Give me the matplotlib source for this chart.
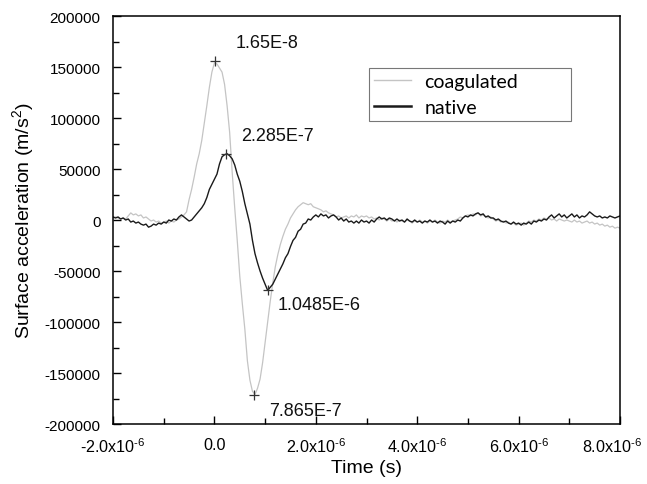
import numpy as np
import matplotlib
matplotlib.use("Agg")
import matplotlib.pyplot as plt
import matplotlib.transforms as mtransforms

plt.rcParams['font.family'] = ['Liberation Sans', 'DejaVu Sans']
plt.rcParams['mathtext.fontset'] = 'custom'
plt.rcParams['mathtext.rm'] = 'Liberation Sans'
plt.rcParams['mathtext.default'] = 'rm'

# time grid, 0.05 us steps from -2 us to 8 us
time = np.linspace(-2.0e-6, 8.0e-6, 201)

# surface acceleration, in units of 1000 m/s^2
native_k = [
    3, 2, 3, 1, 2, 0, 1, -2, -1, -3, -2, -4, -5, -4, -7, -6, -4, -5, -3, -4,
    -2, -3, 0, -1, 1, 0, 3, 5, 3, 1, -1, 0, 3, 6, 9, 12, 16, 22, 30, 35,
    40, 45, 55, 62, 64, 65, 63, 60, 54, 45, 38, 28, 16, 6, -4, -20, -33, -42, -50, -57,
    -63, -69, -66, -63, -58, -53, -48, -43, -37, -33, -26, -20, -17, -11, -9, -4, -3, 1, 0, 3,
    5, 3, 6, 4, 5, 2, 4, 5, 3, 0, 2, -1, 1, -2, -1, -3, -1, -3, 0, -2,
    -1, -3, 0, -2, 1, 3, 1, 2, 0, 2, 1, -1, 1, -1, 0, -2, 1, -1, -2, 0,
    -2, -1, -3, -1, -2, 0, -2, -1, -3, -1, -2, -4, -1, -3, -1, -2, 0, -1, 2, 4,
    3, 5, 4, 6, 7, 5, 6, 3, 4, 2, 2, 0, 1, -1, -2, -1, -3, -4, -2, -4,
    -3, -5, -3, -4, -2, -4, -1, -2, 0, -1, 1, 0, 3, 5, 2, 4, 6, 3, 5, 2,
    4, 6, 3, 5, 2, 4, 3, 5, 8, 6, 4, 3, 4, 2, 3, 2, 4, 3, 2, 3,
    4,
]
coagulated_k = [
    2, 3, 2, 1, 2, 1, 4, 7, 5, 6, 4, 5, 2, 3, 1, -1, 0, -2, -1, -3,
    -2, -1, -3, -1, -2, 0, 1, 3, 5, 8, 20, 30, 42, 55, 65, 78, 95, 112, 130, 145,
    154, 153, 149, 145, 133, 112, 86, 47, 12, -20, -55, -82, -107, -138, -157, -168, -171, -165, -156, -140,
    -120, -100, -80, -62, -46, -34, -24, -16, -9, -4, 2, 6, 10, 13, 15, 17, 16, 15, 16, 13,
    12, 11, 10, 8, 9, 7, 6, 5, 3, 4, 2, 3, 4, 2, 4, 3, 5, 2, 4, 3,
    4, 2, 3, 1, 2, 0, 2, 1, -1, 1, -1, 0, -2, 0, -1, -2, 0, -1, -3, -1,
    -2, 0, -2, -1, -3, -1, -2, 0, -2, -3, -1, -2, 0, -2, -1, 0, 1, 3, 2, 4,
    5, 4, 6, 5, 7, 4, 5, 3, 2, 3, 1, -1, 0, -2, -1, -3, -2, -4, -3, -5,
    -4, -3, -5, -3, -1, -2, 0, -1, 1, 0, 2, 1, 2, 0, 1, -1, 1, 0, -1, 0,
    -1, -2, 0, -2, -1, -3, -2, -1, -3, -2, -4, -3, -5, -4, -6, -5, -7, -6, -8, -7,
    -8,
]
native = np.array(native_k) * 1000
coagulated = np.array(coagulated_k) * 1000

# marked extrema and their labels
peak_t = [1.65e-8, 2.285e-7, 1.0485e-6, 7.865e-7]
peak_v = [156000, 65000, -69000, -172000]
peak_labels = ['1.65E-8', '2.285E-7', '1.0485E-6', '7.865E-7']
label_t = [0.41e-6, 0.52e-6, 1.25e-6, 1.08e-6]
label_v = [174500, 82400, -82400, -187000]

xticks = [-2.0e-6, 0.0, 2.0e-6, 4.0e-6, 6.0e-6, 8.0e-6]
xticklabels = ['-2.0x10$^{\u20106}$', '0.0', '2.0x10$^{\u20106}$', '4.0x10$^{\u20106}$',
               '6.0x10$^{\u20106}$', '8.0x10$^{\u20106}$']
yticks = [-200000, -150000, -100000, -50000, 0, 50000, 100000, 150000, 200000]

fig = plt.figure(figsize=(6.47, 4.85), dpi=100)
ax = fig.add_axes([0.1747, 0.1237, 0.7836, 0.8412])

ax.plot(time, coagulated, color='#c4c4c4', lw=0.9, label='coagulated')
ax.plot(time, native, color='#1a1a1a', lw=1.0, label='native')
ax.plot(peak_t, peak_v, ls='none', marker='+', ms=7, mew=0.9, color='#333333')

for t, v, s in zip(label_t, label_v, peak_labels):
    ax.text(t, v, s, fontsize=13, ha='left', va='center', color='#111111')

ax.set_xlim(-2.0e-6, 8.0e-6)
ax.set_ylim(-200000, 200000)
ax.set_xticks(xticks)
ax.set_xticklabels(xticklabels)
ax.set_xticks([-1e-6, 1e-6, 3e-6, 5e-6, 7e-6], minor=True)
ax.set_yticks(yticks)
ax.set_yticklabels([str(v) for v in yticks])
ax.set_yticks([-175000, -125000, -75000, -25000, 25000, 75000, 125000, 175000], minor=True)
ax.tick_params(which='both', direction='in', top=False, right=False, labelsize=11, width=1.0)
ax.tick_params(which='major', length=6)
ax.tick_params(which='minor', length=4)
ax.tick_params(axis='x', pad=9, labelsize=11.6)
ax.tick_params(axis='y', pad=9)
for sp in ax.spines.values():
    sp.set_linewidth(1.1)

# nudge the last x label left so it stays inside the picture
last = ax.get_xticklabels()[-1]
last.set_transform(last.get_transform() +
                   mtransforms.ScaledTranslation(-6 / 72, 0, fig.dpi_scale_trans))

ax.set_xlabel('Time (s)', fontsize=14, labelpad=3)
ax.set_ylabel('Surface acceleration (m/s$^{2}$)', fontsize=14, labelpad=6)

leg = ax.legend(loc='upper left', bbox_to_anchor=(0.505, 0.745, 0.398, 0.128),
                mode='expand', borderaxespad=0, frameon=True, fancybox=False,
                edgecolor='#555555', borderpad=0.25, handlelength=1.9,
                handletextpad=0.7, labelspacing=0.48,
                prop={'family': 'Lato', 'size': 14})
leg.get_frame().set_linewidth(0.8)
leg.legend_handles[0].set_linewidth(1.0)
leg.legend_handles[1].set_linewidth(1.8)

fig.savefig('out.png', dpi=100)
